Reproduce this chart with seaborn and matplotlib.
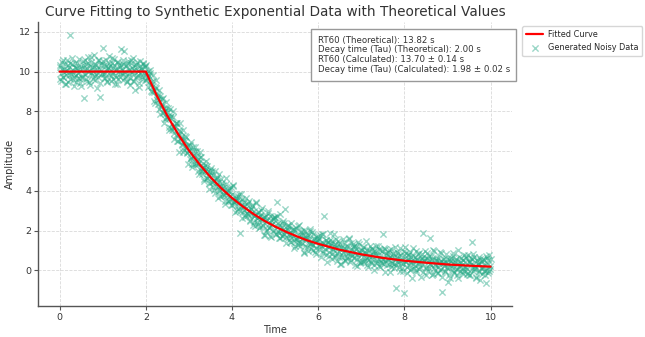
import numpy as np
import pandas as pd
import matplotlib
matplotlib.use("Agg")
import matplotlib.pyplot as plt
import seaborn as sns

# Noisy amplitude samples: first set on a 0.02 s grid (0..10 s)
amplitude = [
    10.31, 9.62, 9.95, 10.48, 9.71, 10.12, 9.38, 10.05, 9.84, 10.57, 9.49, 10.22, 11.82, 9.90, 10.36, 9.58, 10.09, 9.27, 10.44, 9.83, 10.18, 9.66, 10.61, 9.97, 9.41,
    10.28, 9.73, 10.52, 8.68, 10.14, 9.86, 10.39, 9.55, 10.71, 10.02, 9.34, 10.46, 9.91, 10.25, 9.62, 10.83, 9.79, 10.33, 9.18, 10.57, 9.95, 10.12, 8.74, 10.41, 9.87,
    11.21, 9.69, 10.35, 9.92, 10.58, 9.47, 10.19, 10.76, 9.81, 10.27, 9.53, 10.44, 9.98, 10.62, 9.36, 10.13, 9.75, 10.49, 9.64, 10.31, 9.89, 11.12, 10.06, 9.58, 10.37,
    11.05, 9.72, 10.28, 9.45, 10.51, 9.86, 10.14, 9.31, 10.43, 9.97, 10.66, 9.52, 10.21, 9.09, 10.37, 9.78, 10.02, 9.24, 10.55, 9.88, 10.19, 9.61, 10.41, 9.93, 10.26,
    10.33, 9.69, 9.85, 9.22, 9.77, 9.92, 9.32, 8.96, 9.85, 8.99, 9.06, 8.40, 9.15, 8.89, 8.39, 9.08, 7.84, 8.63, 8.31, 8.63, 7.94, 8.19, 7.61, 8.48, 7.70,
    7.67, 8.15, 7.06, 7.65, 7.74, 7.08, 8.04, 7.20, 6.90, 7.26, 7.42, 6.52, 6.88, 7.05, 5.95, 7.00, 6.67, 6.37, 7.06, 6.05, 6.49, 6.23, 6.73, 5.93, 6.29,
    6.12, 5.60, 6.45, 5.72, 5.20, 5.99, 5.72, 5.99, 5.31, 5.98, 5.36, 5.60, 4.84, 5.94, 5.17, 4.86, 5.41, 5.21, 4.60, 5.00, 5.52, 4.66, 5.00, 4.08, 5.03,
    4.41, 4.80, 4.99, 4.50, 4.06, 5.01, 4.23, 4.46, 4.63, 3.62, 4.45, 4.06, 4.58, 3.76, 4.13, 4.30, 3.77, 3.46, 4.65, 3.77, 3.97, 3.48, 4.12, 3.73, 3.27,
    3.28, 4.22, 3.43, 3.55, 2.94, 3.74, 3.53, 3.09, 3.82, 1.85, 3.48, 3.21, 3.58, 2.94, 3.24, 2.70, 3.62, 2.89, 3.36, 2.79, 3.02, 2.46, 3.08, 3.29, 2.76,
    2.72, 2.99, 2.25, 3.38, 2.63, 2.35, 2.93, 2.75, 2.17, 2.59, 3.13, 2.30, 2.66, 1.77, 2.74, 2.50, 2.01, 2.90, 2.20, 1.72, 2.55, 2.31, 2.61, 1.97, 2.68,
    2.63, 1.82, 3.44, 2.40, 1.89, 1.60, 2.81, 1.95, 2.17, 1.70, 2.36, 1.99, 3.09, 1.65, 2.07, 2.28, 1.82, 1.41, 2.38, 1.63, 1.88, 2.08, 1.10, 1.95, 1.59,
    1.54, 2.22, 1.25, 1.74, 1.39, 1.98, 1.57, 1.78, 0.89, 2.03, 1.24, 1.64, 1.79, 0.95, 1.50, 1.33, 2.07, 1.08, 1.33, 1.82, 1.56, 0.90, 1.42, 1.14, 1.67,
    1.51, 1.07, 1.79, 1.22, 1.40, 0.88, 1.82, 2.73, 1.26, 1.52, 0.39, 1.41, 1.15, 0.71, 1.53, 1.29, 0.84, 1.06, 1.81, 0.76, 1.34, 1.16, 0.49, 1.49, 0.92,
    1.32, 0.31, 1.17, 0.77, 1.57, 0.99, 0.53, 1.08, 1.22, 0.60, 0.85, 1.56, 0.39, 1.09, 0.78, 1.34, 0.60, 1.21, 0.88, 1.08, 0.22, 0.68, 1.34, 0.42, 0.87,
    0.39, 0.81, 1.15, 0.46, 0.91, 0.66, 1.49, 0.25, 0.51, 1.00, 0.78, 0.36, 1.13, 0.57, 0.90, 0.02, 0.98, 0.76, 0.48, 1.20, 0.21, 0.59, 1.02, 0.79, 0.34,
    1.82, 0.31, 1.07, -0.08, 0.78, 0.54, 0.94, 0.32, 0.65, 0.14, 1.09, 0.38, 0.87, 0.33, 0.58, -0.88, 0.69, 0.93, 0.42, 0.15, 1.12, 0.36, 0.51, -0.06, 0.76,
    -1.17, 1.18, 0.41, 0.17, 0.61, 0.83, 0.00, 0.43, 0.66, -0.37, 0.74, 0.47, 0.23, 0.99, 0.03, 0.54, 0.34, 0.89, 0.16, 0.57, 0.27, 0.83, 1.89, 0.47, 0.63,
    -0.24, 0.61, 0.40, 0.71, 0.09, 1.60, 0.24, 0.54, -0.18, 0.98, 0.26, -0.01, 0.60, 0.45, -0.12, 0.33, 0.90, 0.08, 0.47, -1.10, 0.59, 0.37, -0.09, 0.81, 0.14,
    0.11, -0.60, 0.59, -0.38, 0.49, 0.15, 0.70, -0.08, 0.33, 0.53, 0.04, -0.23, 1.00, 0.15, 0.39, -0.06, 0.62, 0.26, -0.17, -0.04, 0.40, 0.62, 0.18, -0.21, 0.78,
    -0.25, 0.39, 0.63, 0.13, 1.43, 0.84, 0.07, 0.23, -0.34, 0.49, 0.32, -0.10, 0.67, -0.48, 0.39, 0.16, 0.56, -0.06, 0.27, -0.23, 0.72, 0.02, 0.51, -0.03, 0.23,
    0.55,
]

# Second set of samples, in between the first (0.01 .. 9.99 s)
amplitude_mid = [
    10.22, 9.53, 10.13, 10.58, 9.74, 9.97, 10.39, 9.39, 10.08, 10.31, 9.82, 10.45, 9.63, 10.01, 10.67, 9.88, 9.71, 10.24, 9.47, 10.16, 10.42, 9.92, 9.67, 10.11, 9.28,
    9.70, 10.11, 10.33, 9.86, 10.56, 9.63, 10.19, 9.98, 10.41, 9.47, 10.28, 10.74, 9.81, 10.04, 10.23, 9.59, 10.37, 9.90, 10.14, 9.74, 10.60, 9.42, 10.09, 10.32, 9.94,
    10.52, 9.89, 9.67, 10.30, 10.08, 9.51, 10.24, 10.41, 9.96, 9.78, 10.67, 9.64, 10.17, 10.34, 9.84, 10.10, 9.39, 10.48, 10.03, 10.22, 9.71, 10.31, 9.92, 10.56, 9.99,
    9.96, 10.33, 9.77, 9.51, 10.41, 10.10, 9.68, 10.57, 9.86, 10.20, 9.55, 10.07, 10.35, 9.72, 10.48, 9.83, 10.01, 9.41, 10.29, 10.13, 9.74, 10.38, 9.91, 9.60, 10.24,
    9.60, 9.91, 10.03, 9.46, 10.06, 9.04, 9.50, 9.20, 9.54, 8.50, 9.22, 9.59, 8.58, 8.72, 8.82, 8.10, 8.79, 8.24, 8.39, 7.91, 8.69, 7.43, 8.02, 8.17, 7.72,
    7.97, 7.20, 7.72, 8.10, 7.18, 7.34, 7.69, 6.61, 7.23, 7.39, 6.83, 7.39, 6.50, 6.81, 7.40, 6.54, 6.30, 6.77, 5.93, 6.56, 6.75, 6.19, 5.88, 6.25, 5.36,
    5.98, 6.29, 5.67, 5.35, 6.19, 5.82, 5.34, 6.18, 5.41, 5.70, 4.99, 5.46, 5.68, 5.00, 5.70, 5.00, 5.13, 4.48, 5.31, 5.10, 4.66, 5.25, 4.73, 4.37, 4.96,
    5.14, 4.46, 4.19, 4.78, 4.51, 3.90, 4.58, 4.71, 4.21, 3.99, 4.84, 3.76, 4.25, 4.38, 3.84, 4.06, 3.31, 4.36, 3.87, 4.02, 3.47, 4.03, 3.60, 4.21, 3.60,
    3.85, 4.27, 3.31, 3.50, 3.66, 2.98, 3.73, 3.22, 3.43, 3.00, 3.82, 2.61, 3.25, 3.44, 3.03, 2.76, 3.14, 3.33, 2.83, 3.50, 2.54, 3.07, 2.83, 3.23, 2.26,
    2.45, 2.80, 3.43, 2.61, 2.41, 2.92, 2.12, 2.78, 3.02, 2.49, 2.21, 2.63, 1.77, 2.69, 1.97, 2.55, 2.97, 2.11, 2.31, 2.71, 1.69, 2.35, 2.56, 2.05, 2.66,
    2.29, 1.84, 2.71, 1.98, 2.30, 1.63, 2.13, 2.39, 1.74, 2.48, 1.81, 1.97, 1.35, 2.21, 2.03, 1.62, 2.24, 1.75, 1.42, 2.04, 1.74, 2.10, 1.52, 1.24, 2.12,
    1.61, 1.41, 2.29, 1.24, 1.75, 1.91, 1.39, 1.63, 0.91, 1.98, 1.52, 1.69, 1.17, 1.75, 1.35, 1.97, 1.39, 1.90, 1.26, 1.02, 1.64, 1.41, 0.82, 1.54, 1.70,
    1.21, 1.58, 1.33, 0.65, 1.82, 0.95, 1.33, 1.08, 1.54, 0.75, 1.37, 1.17, 0.93, 1.85, 1.38, 0.56, 1.48, 1.04, 1.24, 0.67, 1.59, 0.88, 1.34, 1.11, 0.69,
    0.31, 1.13, 0.68, 0.92, 1.41, 1.14, 0.44, 1.20, 0.66, 0.82, 1.60, 0.93, 0.54, 1.35, 0.71, 1.19, 0.95, 0.25, 1.24, 0.81, 0.57, 1.40, 0.95, 0.34, 1.02,
    1.03, 0.39, 0.69, 1.15, 0.50, 0.88, 1.04, 0.15, 0.74, 0.55, 1.20, 0.43, 1.05, 0.76, 0.24, 0.88, 0.53, 1.24, 0.34, 0.75, 1.05, 0.15, 0.40, 0.95, 0.58,
    0.55, 1.12, 0.47, 0.85, 0.25, 0.75, 0.56, 1.00, -0.10, 0.61, 0.34, 0.84, 0.66, 0.13, 1.15, 0.26, 0.43, 0.88, 0.70, -0.03, 0.53, 0.75, 0.11, 0.33, 0.95,
    0.44, 0.86, -0.15, 0.54, 0.76, 0.27, 0.90, 0.07, 0.45, 1.10, 0.31, 0.13, 0.66, -0.11, 0.57, 0.83, 0.32, 0.07, 0.51, -0.33, 0.61, -0.09, 0.51, 0.96, 0.11,
    0.18, 0.88, -0.06, 0.50, 0.29, 0.71, -0.23, 0.58, 1.03, 0.10, 0.32, 0.51, -0.13, 0.64, 0.17, 0.41, 0.00, 0.86, -0.32, 0.35, 0.57, 0.19, -0.05, 0.35, 0.57,
    0.32, -0.26, 0.47, 0.64, 0.19, 0.00, 0.89, -0.14, 0.39, 0.55, 0.05, 0.31, -0.40, 0.68, 0.23, 0.42, -0.09, 0.50, 0.11, 0.75, 0.18, 0.70, 0.07, -0.15, 0.48,
    0.42, -0.23, 0.29, 0.57, -0.06, 0.69, 0.04, 0.22, -0.38, 0.50, 0.33, -0.06, 0.58, 0.11, -0.20, 0.44, 0.15, 0.52, -0.04, -0.62, 0.60, 0.29, -0.14, 0.75, 0.04,
]

time = np.linspace(0, 10, len(amplitude))
time_mid = np.linspace(0.01, 9.99, len(amplitude_mid))

# Fitted curve
fit_time = [0, 2, 2.25, 2.5, 2.75, 3, 3.25, 3.5, 3.75, 4, 4.25, 4.5, 4.75, 5, 5.25,
            5.5, 5.75, 6, 6.5, 7, 7.5, 8, 8.5, 9, 9.5, 10]
fit_amp = [10.0, 10.0, 8.81, 7.77, 6.85, 6.03, 5.32, 4.69, 4.13, 3.64, 3.21, 2.83, 2.49,
           2.20, 1.94, 1.71, 1.50, 1.33, 1.03, 0.80, 0.62, 0.48, 0.38, 0.29, 0.23, 0.18]

title = "Curve Fitting to Synthetic Exponential Data with Theoretical Values"
info_lines = [
    "RT60 (Theoretical): 13.82 s",
    "Decay time (Tau) (Theoretical): 2.00 s",
    "RT60 (Calculated): 13.70 \u00b1 0.14 s",
    "Decay time (Tau) (Calculated): 1.98 \u00b1 0.02 s",
]

sns.set_theme(style="whitegrid")
plt.rcParams["font.family"] = ["DejaVu Sans"]

fig = plt.figure(figsize=(6.45, 3.37), dpi=100)
ax = fig.add_axes([0.059, 0.092, 0.735, 0.843])

noisy = pd.DataFrame({
    "Time": np.concatenate([time, time_mid]),
    "Amplitude": np.concatenate([amplitude, amplitude_mid]),
})
noisy = noisy.sort_values("Time")
fit = pd.DataFrame({"Time": fit_time, "Amplitude": fit_amp})

sns.scatterplot(data=noisy, x="Time", y="Amplitude", marker="x", s=20,
                color="#22a884", alpha=0.45, linewidth=1.0,
                label="Generated Noisy Data", ax=ax, zorder=2)
sns.lineplot(data=fit, x="Time", y="Amplitude", color="red", linewidth=1.6,
             label="Fitted Curve", ax=ax, zorder=3)

ax.set_xlim(-0.5, 10.5)
ax.set_ylim(-1.8, 12.5)
ax.set_xticks([0, 2, 4, 6, 8, 10])
ax.set_yticks([0, 2, 4, 6, 8, 10, 12])
ax.tick_params(axis="both", labelsize=6.8, length=3, width=0.8, color="#555555",
               pad=2, labelcolor="#333333", bottom=True, left=True)
ax.set_xlabel("Time", fontsize=7, color="#333333", labelpad=2)
ax.set_ylabel("Amplitude", fontsize=7, color="#333333", labelpad=3)
ax.set_title(title, fontsize=9.8, color="#333333", pad=4)

ax.grid(True, linestyle="--", linewidth=0.6, color="#d9d9d9")
ax.set_axisbelow(True)
for side in ["top", "right"]:
    ax.spines[side].set_visible(False)
for side in ["left", "bottom"]:
    ax.spines[side].set_color("#555555")
    ax.spines[side].set_linewidth(1.0)

ax.text(0.59, 0.952, "\n".join(info_lines), transform=ax.transAxes,
        fontsize=6.2, color="#333333", va="top", ha="left", linespacing=1.12,
        bbox=dict(boxstyle="square,pad=0.75", facecolor="white",
                  edgecolor="#999999", linewidth=1.0), zorder=5)

handles, labels = ax.get_legend_handles_labels()
order = [labels.index("Fitted Curve"), labels.index("Generated Noisy Data")]
ax.legend([handles[i] for i in order], [labels[i] for i in order],
          loc="upper left", bbox_to_anchor=(1.013, 1.0), fontsize=5.9,
          frameon=True, edgecolor="#cccccc", fancybox=True, borderpad=0.5,
          handlelength=2.0, handletextpad=0.6, borderaxespad=0.5)

fig.savefig("out.png", dpi=100)
